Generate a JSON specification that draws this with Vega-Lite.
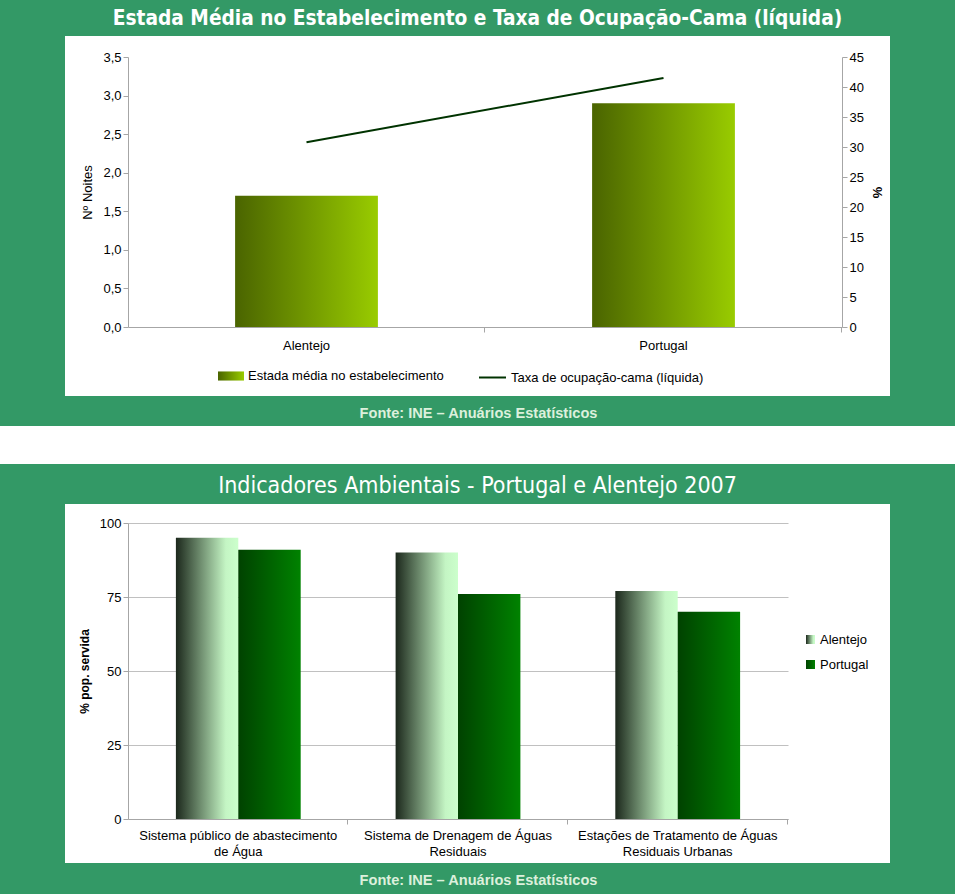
{
  "$schema": "https://vega.github.io/schema/vega-lite/v6.json",
  "background": "#339966",
  "padding": 0,
  "autosize": {"type": "pad"},
  "spacing": 0,
  "bounds": "flush",
  "center": true,
  "resolve": {"scale": {"fill": "independent", "stroke": "independent"}},
  "config": {
    "view": {"stroke": null},
    "font": "Liberation Sans",
    "axis": {
      "labelFont": "Liberation Sans",
      "titleFont": "Liberation Sans",
      "labelColor": "#000000",
      "titleColor": "#000000",
      "domainColor": "#a6a6a6",
      "tickColor": "#a6a6a6",
      "labelFontSize": 13,
      "labelLimit": 400,
      "tickSize": 5
    },
    "legend": {"labelFont": "Liberation Sans", "labelFontSize": 13, "labelColor": "#000000", "padding": 0, "labelLimit": 400}
  },
  "vconcat": [
    {"width": 955, "height": 36, "data": {"values": [{}]}, "mark": {"type": "point", "opacity": 0}, "encoding": {}},
    {
      "width": 825,
      "height": 360,
      "view": {"fill": "white", "stroke": null},
      "title": {
        "text": "Estada Média no Estabelecimento e Taxa de Ocupação-Cama (líquida)",
        "font": "Liberation Sans Narrow, DejaVu Sans Condensed, Liberation Sans",
        "fontSize": 20.7,
        "fontWeight": "bold",
        "color": "white",
        "baseline": "alphabetic",
        "offset": -10,
        "anchor": "middle"
      },
      "data": {"values": [
        {"regiao": "Alentejo", "estada": 1.7, "taxa": 30.8},
        {"regiao": "Portugal", "estada": 2.9, "taxa": 41.5}
      ]},
      "encoding": {
        "x": {
          "field": "regiao",
          "type": "nominal",
          "sort": null,
          "scale": {"range": [63, 777], "paddingInner": 0.6, "paddingOuter": 0.3},
          "axis": {
            "orient": "bottom",
            "offset": -69,
            "labelAngle": 0,
            "labelPadding": 7,
            "bandPosition": 1.748,
            "grid": false,
            "title": "Fonte: INE – Anuários Estatísticos",
            "titleX": 413,
            "titleY": 86,
            "titleAlign": "center",
            "titleBaseline": "middle",
            "titleFontSize": 14.6,
            "titleFontWeight": "bold",
            "titleColor": "#dcf0dc"
          }
        }
      },
      "layer": [
        {
          "mark": {"type": "bar"},
          "encoding": {
            "y": {
              "field": "estada",
              "type": "quantitative",
              "scale": {"domain": [0, 3.5], "range": [291, 21], "nice": false},
              "axis": {
                "orient": "left",
                "offset": -63,
                "values": [0, 0.5, 1, 1.5, 2, 2.5, 3, 3.5],
                "labelExpr": "replace(format(datum.value, '.1f'), '.', ',')",
                "grid": false,
                "title": "Nº Noites",
                "titleFontSize": 13,
                "titleFontWeight": "normal",
                "titlePadding": 8
              }
            },
            "fill": {
              "datum": "Estada média no estabelecimento",
              "type": "nominal",
              "scale": {"range": [{"expr": "{gradient: 'linear', x1: 0, y1: 0, x2: 1, y2: 0, stops: [{offset: 0, color: '#4a6400'}, {offset: 1, color: '#99cc00'}]}"}]},
              "legend": {
                "title": null,
                "orient": "none",
                "legendX": 153,
                "legendY": 327,
                "symbolType": "M-1,-0.35H1V0.35H-1Z",
                "symbolSize": 676,
                "symbolStrokeWidth": 0,
                "labelOffset": 4
              }
            }
          }
        },
        {
          "mark": {"type": "line", "strokeWidth": 2},
          "encoding": {
            "y": {
              "field": "taxa",
              "type": "quantitative",
              "scale": {"domain": [0, 45], "range": [291, 21], "nice": false},
              "axis": {
                "orient": "right",
                "offset": -48,
                "values": [0, 5, 10, 15, 20, 25, 30, 35, 40, 45],
                "grid": false,
                "title": "%",
                "titleFontSize": 13,
                "titleFontWeight": "bold",
                "titlePadding": 6
              }
            },
            "stroke": {
              "datum": "Taxa de ocupação-cama (líquida)",
              "type": "nominal",
              "scale": {"range": ["#003300"]},
              "legend": {
                "title": null,
                "orient": "none",
                "legendX": 413,
                "legendY": 327,
                "symbolType": "stroke",
                "symbolSize": 729,
                "symbolStrokeWidth": 2,
                "labelOffset": 4
              }
            }
          }
        }
      ],
      "resolve": {"scale": {"y": "independent"}}
    },
    {"width": 955, "height": 30, "data": {"values": [{}]}, "mark": {"type": "point", "opacity": 0}, "encoding": {}},
    {"width": 955, "height": 38, "view": {"fill": "white", "stroke": null}, "data": {"values": [{}]}, "mark": {"type": "point", "opacity": 0}, "encoding": {}},
    {"width": 955, "height": 40, "data": {"values": [{}]}, "mark": {"type": "point", "opacity": 0}, "encoding": {}},
    {
      "width": 825,
      "height": 359,
      "view": {"fill": "white", "stroke": null},
      "title": {
        "text": "Indicadores Ambientais - Portugal e Alentejo 2007",
        "font": "Liberation Sans Narrow, DejaVu Sans Condensed, Liberation Sans",
        "fontSize": 23,
        "fontWeight": "normal",
        "color": "white",
        "baseline": "alphabetic",
        "offset": -12,
        "anchor": "middle"
      },
      "data": {"values": [
        {"indicador": "Sistema público de abastecimento de Água", "serie": "Alentejo", "valor": 95},
        {"indicador": "Sistema público de abastecimento de Água", "serie": "Portugal", "valor": 91},
        {"indicador": "Sistema de Drenagem de Águas Residuais", "serie": "Alentejo", "valor": 90},
        {"indicador": "Sistema de Drenagem de Águas Residuais", "serie": "Portugal", "valor": 76},
        {"indicador": "Estações de Tratamento de Águas Residuais Urbanas", "serie": "Alentejo", "valor": 77},
        {"indicador": "Estações de Tratamento de Águas Residuais Urbanas", "serie": "Portugal", "valor": 70}
      ]},
      "mark": {"type": "bar"},
      "encoding": {
        "x": {
          "field": "indicador",
          "type": "nominal",
          "sort": null,
          "scale": {"range": [63, 723], "paddingInner": 0.432, "paddingOuter": 0.218},
          "axis": {
            "orient": "bottom",
            "offset": -44,
            "labelAngle": 0,
            "labelPadding": 5,
            "labelLineHeight": 16,
            "labelExpr": "datum.value == 'Sistema público de abastecimento de Água' ? ['Sistema público de abastecimento', 'de Água'] : datum.value == 'Sistema de Drenagem de Águas Residuais' ? ['Sistema de Drenagem de Águas', 'Residuais'] : ['Estações de Tratamento de Águas', 'Residuais Urbanas']",
            "bandPosition": 1.376,
            "grid": false,
            "title": "Fonte: INE – Anuários Estatísticos",
            "titleX": 413,
            "titleY": 61,
            "titleAlign": "center",
            "titleBaseline": "middle",
            "titleFontSize": 14.6,
            "titleFontWeight": "bold",
            "titleColor": "#dcf0dc"
          }
        },
        "xOffset": {"field": "serie", "type": "nominal", "sort": ["Alentejo", "Portugal"], "scale": {"paddingInner": 0, "paddingOuter": 0}},
        "y": {
          "field": "valor",
          "type": "quantitative",
          "scale": {"domain": [0, 100], "range": [315, 19], "nice": false},
          "axis": {
            "orient": "left",
            "offset": -63,
            "values": [0, 25, 50, 75, 100],
            "grid": true,
            "gridColor": "#c0c0c0",
            "title": "% pop. servida",
            "titleFontSize": 12,
            "titleFontWeight": "bold",
            "titlePadding": 8
          }
        },
        "fill": {
          "field": "serie",
          "type": "nominal",
          "scale": {
            "domain": ["Alentejo", "Portugal"],
            "range": [
              {"expr": "{gradient: 'linear', x1: 0, y1: 0, x2: 1, y2: 0, stops: [{offset: 0, color: '#1c281c'}, {offset: 0.8, color: '#c4f5c4'}, {offset: 1, color: '#ccffcc'}]}"},
              {"expr": "{gradient: 'linear', x1: 0, y1: 0, x2: 1, y2: 0, stops: [{offset: 0, color: '#004200'}, {offset: 1, color: '#008200'}]}"}
            ]
          },
          "legend": {
            "title": null,
            "orient": "none",
            "legendX": 739,
            "legendY": 129,
            "symbolType": "square",
            "symbolSize": 81,
            "symbolStrokeWidth": 0,
            "labelOffset": 3,
            "rowPadding": 11
          }
        }
      }
    },
    {"width": 955, "height": 31, "data": {"values": [{}]}, "mark": {"type": "point", "opacity": 0}, "encoding": {}}
  ]
}
